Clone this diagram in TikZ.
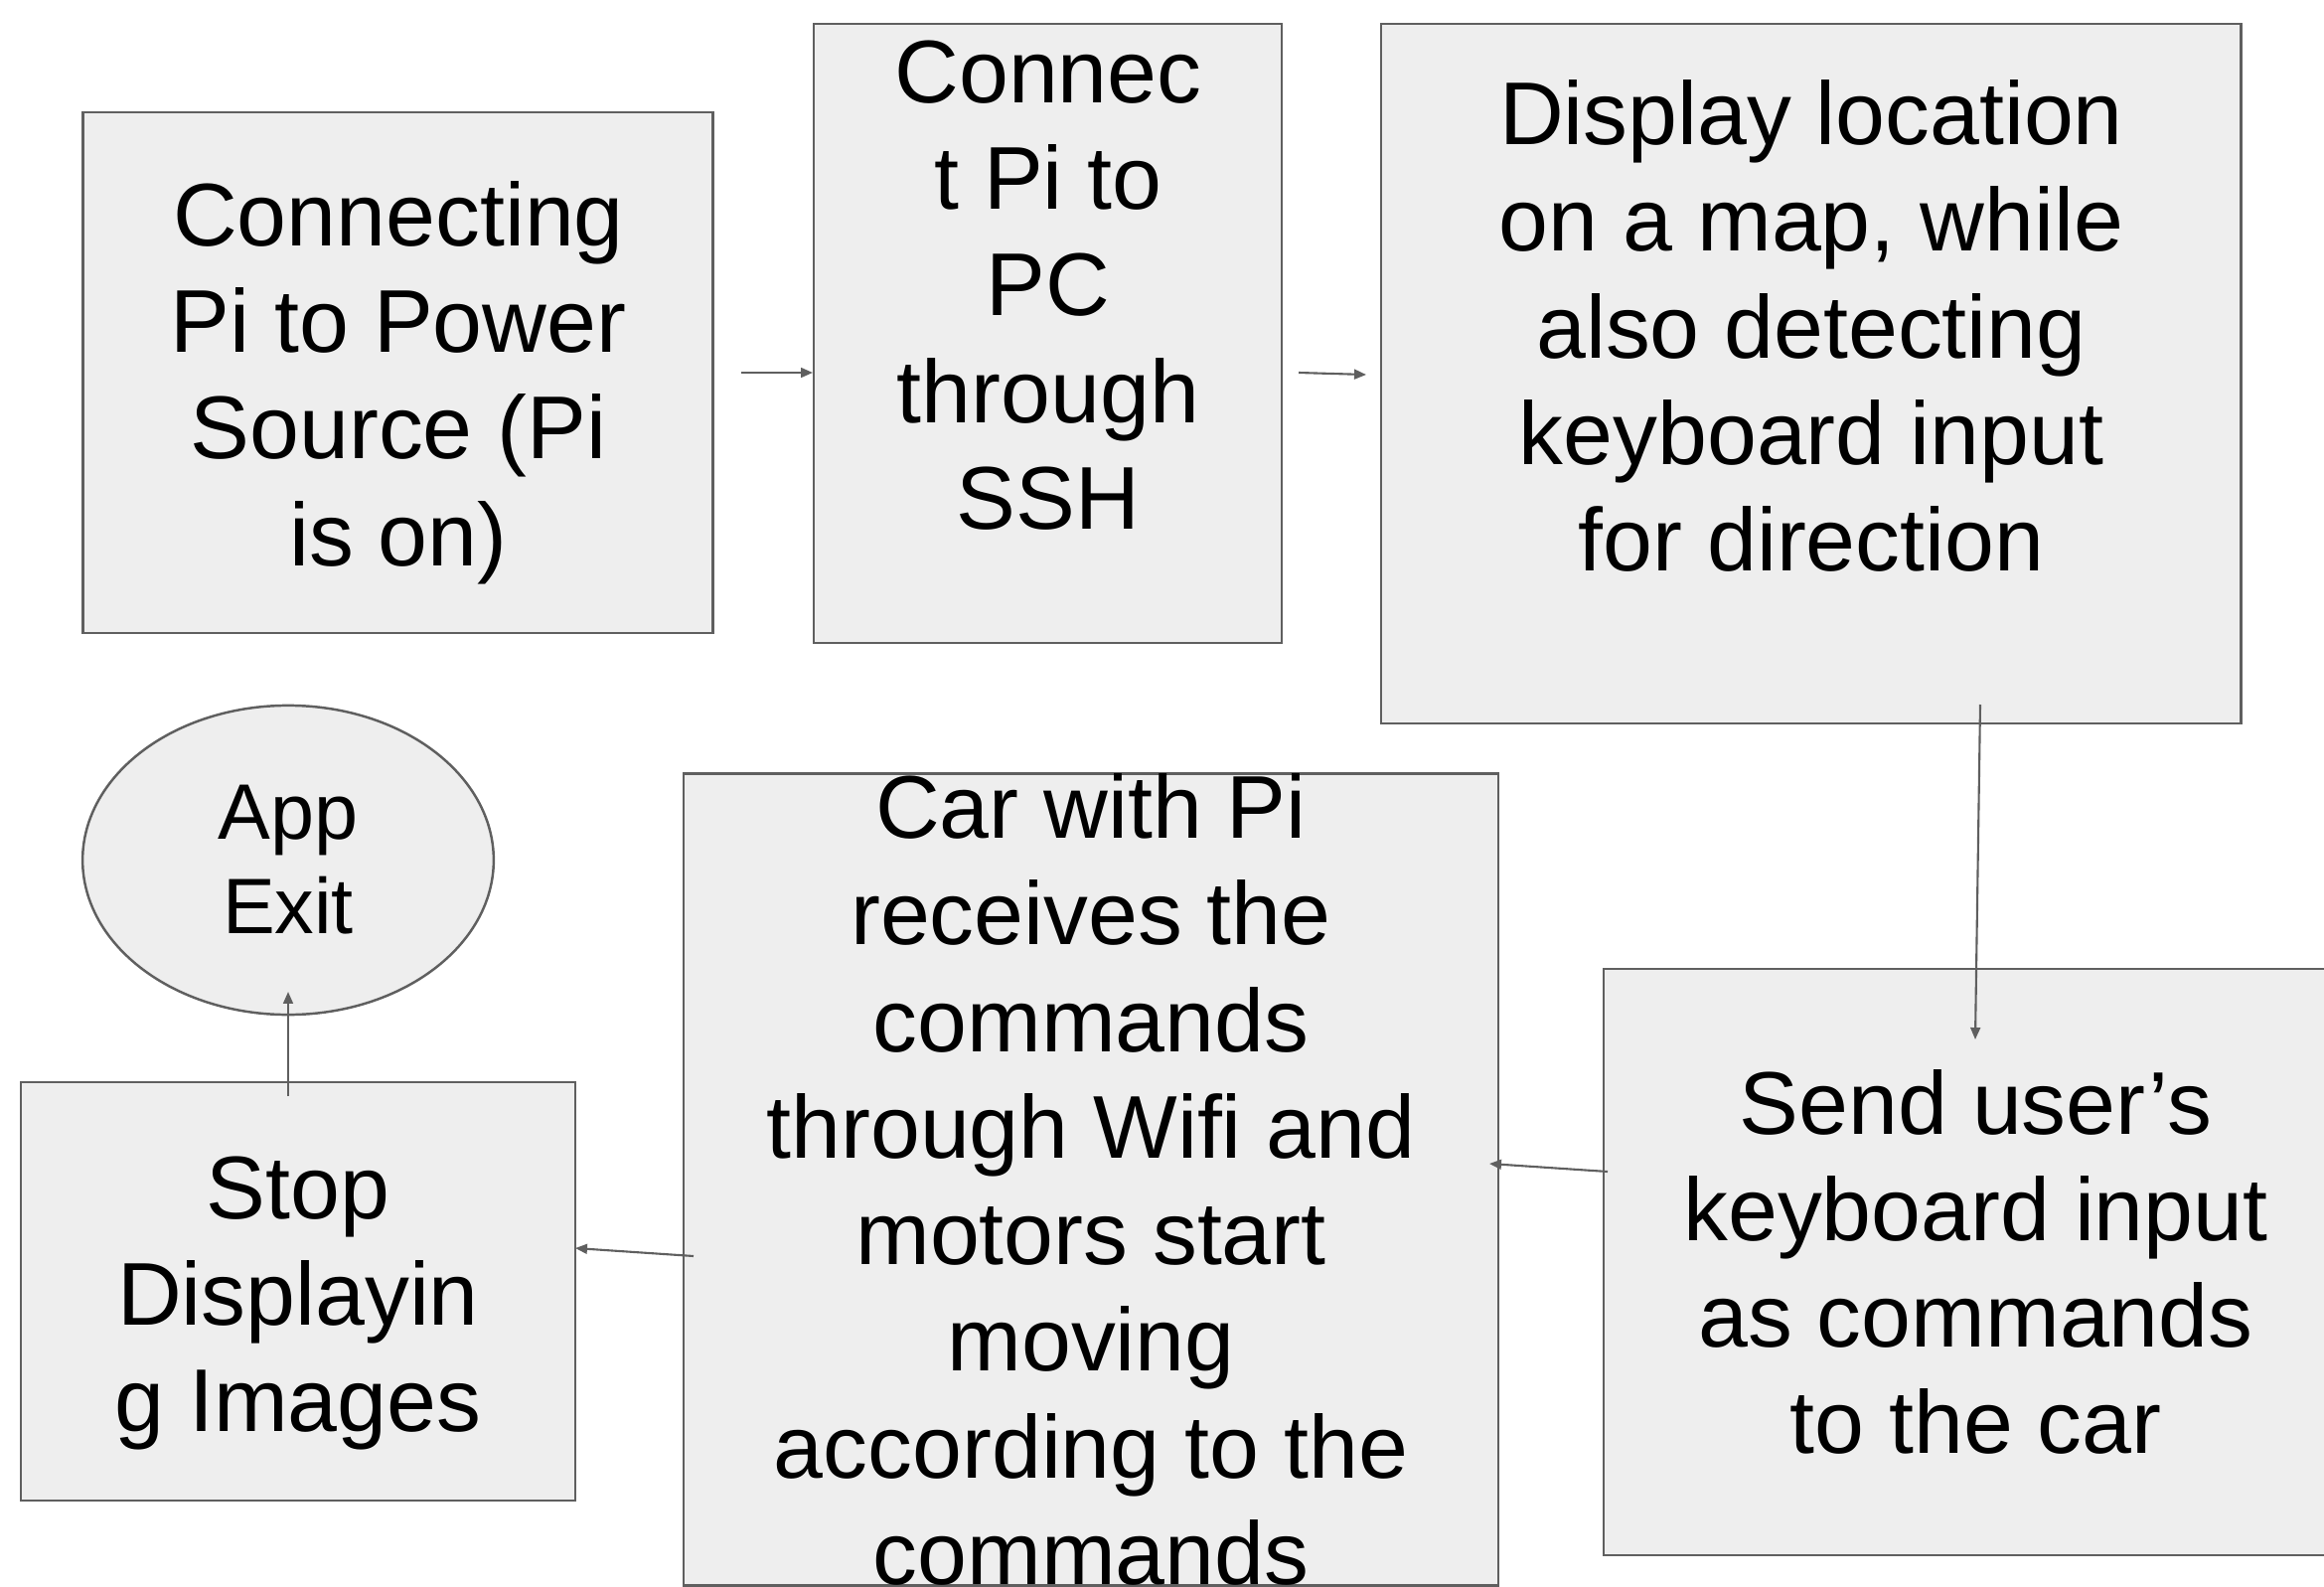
\documentclass[tikz,border=0pt]{standalone}
\usepackage{fontspec}
\setmainfont{Liberation Sans}
\usetikzlibrary{shapes.geometric,arrows.meta}

\definecolor{boxfill}{HTML}{EEEEEE}
\definecolor{boxline}{HTML}{5F5F5F}

\tikzset{
  box/.style={draw=boxline, fill=boxfill, line width=0.7pt, inner sep=0pt},
  txt/.style={align=center, inner sep=0pt, font=\fontsize{25.5}{30.5}\selectfont},
  flow/.style={draw=boxline, line width=0.6pt, -{Triangle[length=3.4pt,width=2.8pt]}}
}

\begin{document}
\begin{tikzpicture}[x=0.01cm, y=-0.01cm]
 \clip (0,0) rectangle (2339,1597);

 \node[box, minimum width=6.34cm, minimum height=5.24cm] (power) at (400.5,375) {};
 \node[txt] (powertext) at (401,385) {Connecting\\Pi to Power\\Source (Pi\\is on)};
 \node[box, minimum width=4.71cm, minimum height=6.23cm] (ssh) at (1054.5,335.5) {};
 \node[txt] (sshtext) at (1055,287) {Connec\\t Pi to\\PC\\through\\SSH};
 \node[box, minimum width=8.65cm, minimum height=7.04cm] (map) at (1822.5,376) {};
 \node[txt] (maptext) at (1823,328)
   {Display location\\on a map, while\\also detecting\\keyboard input\\for direction};

 \node[box, txt, minimum width=7.49cm, minimum height=5.90cm] (send) at (1988.5,1270)
   {Send user’s\\keyboard input\\as commands\\to the car};
 \node[box, txt, minimum width=8.20cm, minimum height=8.10cm] (car) at (1098,1187)
   {Car with Pi\\receives the\\commands\\through Wifi and\\motors start\\moving\\according to the\\commands};
 \node[box, minimum width=5.58cm, minimum height=4.21cm] (stop) at (300,1299.5) {};
 \node[txt] (stoptext) at (300,1311.5) {Stop\\Displayin\\g Images};
 \node[box, txt, ellipse, minimum width=4.135cm, minimum height=3.11cm,
   font=\fontsize{22.5}{27}\selectfont] (exit) at (290,865.5) {App\\Exit};

 % arrows float between the boxes
 \coordinate (a1) at (746,375);   \coordinate (b1) at (818,375);
 \coordinate (a2) at (1307,375);  \coordinate (b2) at (1375,377);
 \coordinate (a3) at (1993,709);  \coordinate (b3) at (1988,1046);
 \coordinate (a4) at (1618,1179); \coordinate (b4) at (1499,1171);
 \coordinate (a5) at (698,1264);  \coordinate (b5) at (579,1256);
 \coordinate (a6) at (290,1103);  \coordinate (b6) at (290,998);

 \draw[flow] (a1) -- (b1);
 \draw[flow] (a2) -- (b2);
 \draw[flow] (a3) -- (b3);
 \draw[flow] (a4) -- (b4);
 \draw[flow] (a5) -- (b5);
 \draw[flow] (a6) -- (b6);
\end{tikzpicture}
\end{document}
